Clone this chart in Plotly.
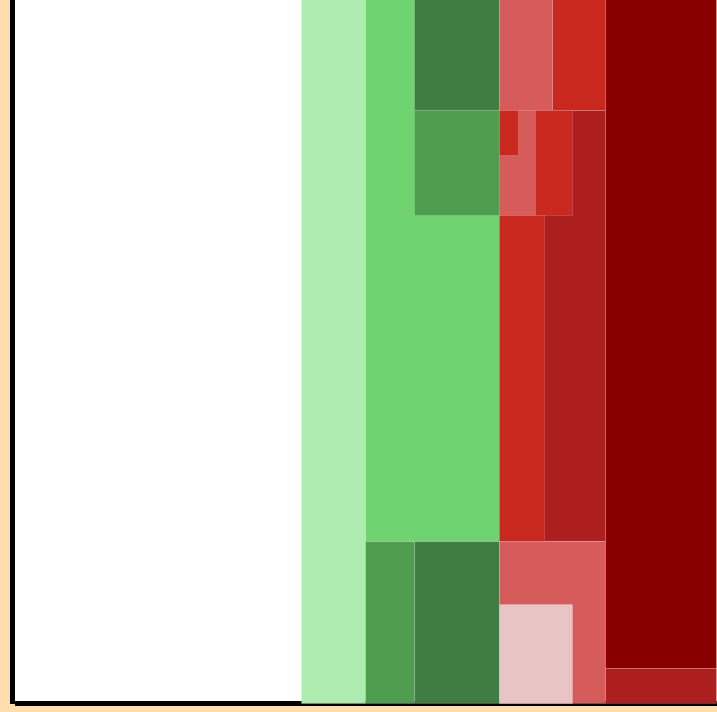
import plotly.graph_objects as go

# Rectangle extents (data units)
x_start = [287, 351, 400, 400, 351, 400, 485, 538, 485, 485, 485, 485, 485, 485, 485, 591, 591]
x_end   = [351, 485, 485, 485, 400, 485, 538, 591, 591, 558, 521, 504, 530, 591, 558, 702, 702]
y_start = [0,   162, 593, 488, 0,   0,   593, 593, 162, 488, 488, 548, 162, 0,   0,   35,  0]
y_end   = [704, 704, 704, 593, 162, 162, 704, 704, 593, 593, 593, 593, 488, 162, 99,  704, 35]
groups  = ["G1", "G2", "G3", "G4", "G4", "G3", "R1", "R2", "R3", "R2", "R1", "R2", "R2",
           "R1", "R4", "R5", "R3"]

palette = {
    "G1": "#aeebae",
    "G2": "#6fd36f",
    "G3": "#3f7d42",
    "G4": "#4f9e4f",
    "R1": "#d65b5b",
    "R2": "#c9281f",
    "R3": "#ad1f1f",
    "R4": "#e8c4c4",
    "R5": "#880000",
}

centers = [(a + b) / 2 for a, b in zip(x_start, x_end)]
widths = [b - a for a, b in zip(x_start, x_end)]
heights = [b - a for a, b in zip(y_start, y_end)]
colors = [palette[g] for g in groups]

fig = go.Figure(
    go.Bar(
        x=centers,
        width=widths,
        base=y_start,
        y=heights,
        marker=dict(color=colors, line=dict(color="rgba(255,255,255,0.15)", width=1)),
        hoverinfo="skip",
        showlegend=False,
    )
)

axis_style = dict(
    showline=True,
    linecolor="black",
    linewidth=5,
    showgrid=False,
    zeroline=False,
    showticklabels=False,
    ticks="",
    layer="below traces",
)

fig.update_layout(
    width=717,
    height=712,
    margin=dict(l=15, r=0, t=0, b=8, pad=0),
    paper_bgcolor="#ffdead",
    plot_bgcolor="white",
    barmode="overlay",
    bargap=0,
    xaxis=dict(range=[0, 702], anchor="free", position=0.0014, **axis_style),
    yaxis=dict(range=[0, 704], **axis_style),
)

fig.write_html(
    "out.html",
    config={"displayModeBar": False},
    post_script="document.body.style.margin='0';document.body.style.background='#ffdead';",
)
